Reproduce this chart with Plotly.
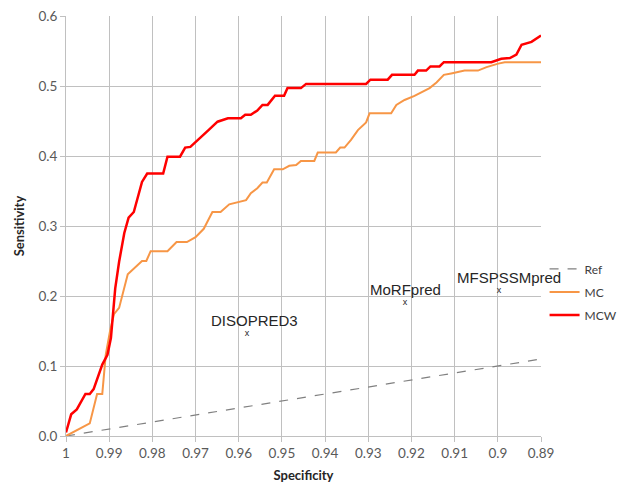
import plotly.graph_objects as go

# ---- data ----
ref_spec = [1.0, 0.89]
ref_sens = [0.0, 0.11]

mc_spec = [1.0, 0.9945, 0.9928, 0.9916, 0.9908, 0.9898, 0.9889, 0.9877, 0.9857, 0.9824,
           0.9814, 0.9804, 0.9765, 0.9744, 0.9720, 0.9700, 0.9681, 0.9661, 0.9642, 0.9622,
           0.9583, 0.9572, 0.9557, 0.9545, 0.9535, 0.9518, 0.9498, 0.9483, 0.9467, 0.9456,
           0.9425, 0.9417, 0.9375, 0.9365, 0.9355, 0.9340, 0.9324, 0.9305, 0.9297, 0.9247,
           0.9235, 0.9216, 0.9193, 0.9158, 0.9142, 0.9125, 0.9108, 0.9077, 0.9046, 0.9026,
           0.8999, 0.8984, 0.89]
mc_sens = [0.0, 0.018, 0.060, 0.060, 0.116, 0.150, 0.174, 0.183, 0.231, 0.250,
           0.250, 0.264, 0.264, 0.277, 0.277, 0.284, 0.296, 0.320, 0.320, 0.331,
           0.337, 0.347, 0.354, 0.362, 0.362, 0.381, 0.381, 0.386, 0.387, 0.393,
           0.393, 0.405, 0.405, 0.412, 0.412, 0.423, 0.437, 0.448, 0.461, 0.461,
           0.473, 0.480, 0.486, 0.497, 0.505, 0.516, 0.518, 0.522, 0.522, 0.527,
           0.532, 0.534, 0.534]

mcw_spec = [1.0, 0.9988, 0.9975, 0.9955, 0.9945, 0.9936, 0.9916, 0.9904, 0.9896, 0.9886,
            0.9877, 0.9865, 0.9855, 0.9843, 0.9824, 0.9812, 0.9775, 0.9765, 0.9736, 0.9724,
            0.9712, 0.9690, 0.9670, 0.9649, 0.9625, 0.9595, 0.9585, 0.9572, 0.9557, 0.9545,
            0.9533, 0.9516, 0.9495, 0.9487, 0.9456, 0.9444, 0.9305, 0.9295, 0.9255, 0.9245,
            0.9193, 0.9185, 0.9166, 0.9156, 0.9135, 0.9125, 0.9015, 0.8992, 0.8972, 0.8957,
            0.8945, 0.8922, 0.8914, 0.89]
mcw_sens = [0.005, 0.031, 0.038, 0.060, 0.060, 0.067, 0.102, 0.116, 0.140, 0.211,
            0.249, 0.290, 0.312, 0.320, 0.363, 0.375, 0.375, 0.399, 0.399, 0.412,
            0.413, 0.425, 0.437, 0.449, 0.454, 0.454, 0.459, 0.459, 0.465, 0.473,
            0.473, 0.486, 0.486, 0.497, 0.497, 0.503, 0.503, 0.509, 0.509, 0.516,
            0.516, 0.522, 0.522, 0.528, 0.528, 0.534, 0.534, 0.539, 0.540, 0.545,
            0.559, 0.563, 0.566, 0.572]

pred_names = ["DISOPRED3", "MoRFpred", "MFSPSSMpred"]
pred_spec = [0.9581, 0.9215, 0.8997]
pred_sens = [0.1465, 0.191, 0.2077]
pred_xshift = [8, 1, 10]

x_ticks = [1, 0.99, 0.98, 0.97, 0.96, 0.95, 0.94, 0.93, 0.92, 0.91, 0.9, 0.89]
x_tick_text = ["1", "0.99", "0.98", "0.97", "0.96", "0.95", "0.94", "0.93", "0.92", "0.91", "0.9", "0.89"]
y_ticks = [0.0, 0.1, 0.2, 0.3, 0.4, 0.5, 0.6]

fig = go.Figure()
fig.add_trace(go.Scatter(x=ref_spec, y=ref_sens, mode="lines", name="Ref",
                         line=dict(color="#808080", width=1.2, dash="dash"),
                         legendgroup="a"))
fig.add_trace(go.Scatter(x=mc_spec, y=mc_sens, mode="lines", name="MC",
                         line=dict(color="#F79646", width=2),
                         legendgroup="b"))
fig.add_trace(go.Scatter(x=mcw_spec, y=mcw_sens, mode="lines", name="MCW",
                         line=dict(color="#FF0000", width=2.5),
                         legendgroup="c"))
fig.add_trace(go.Scatter(x=pred_spec, y=pred_sens, mode="text", text=["x"] * 3,
                         textfont=dict(family="Liberation Sans", size=9, color="#262626"),
                         showlegend=False, hoverinfo="skip"))

for n, sx, sy, xs in zip(pred_names, pred_spec, pred_sens, pred_xshift):
    fig.add_annotation(x=sx, y=sy, text=n, showarrow=False, xshift=xs, yshift=13,
                       font=dict(family="Liberation Sans", size=15, color="#262626"))

axis_font = dict(family="Lato", size=13.5, color="#595959")
fig.update_xaxes(range=[1, 0.89], tickvals=x_ticks, ticktext=x_tick_text,
                 showgrid=True, gridcolor="#c0c0c0", gridwidth=1,
                 showline=True, linecolor="#c0c0c0", linewidth=1,
                 ticks="outside", ticklen=5, tickcolor="#c0c0c0",
                 tickfont=axis_font, zeroline=False, automargin=False,
                 title=dict(text="<b>Specificity</b>", font=dict(family="Lato", size=13, color="#262626"),
                            standoff=10))
fig.update_yaxes(range=[0, 0.6], tickvals=y_ticks, tickformat=".1f",
                 showgrid=True, gridcolor="#c0c0c0", gridwidth=1,
                 showline=True, linecolor="#c0c0c0", linewidth=1,
                 ticks="outside", ticklen=5, tickcolor="#c0c0c0",
                 tickfont=axis_font, zeroline=False, automargin=False,
                 title=dict(text="<b>Sensitivity</b>", font=dict(family="Lato", size=13, color="#262626"),
                            standoff=10))

fig.update_layout(
    width=630, height=484,
    margin=dict(l=66, r=89, t=16, b=48, autoexpand=False),
    plot_bgcolor="white", paper_bgcolor="white",
    legend=dict(x=1.0075, y=0.343, xanchor="left", yanchor="middle",
                font=dict(family="Lato", size=12, color="#404040"),
                itemwidth=30, tracegroupgap=4, traceorder="grouped",
                bgcolor="rgba(0,0,0,0)"),
)

fig.write_html("out.html", config={"displayModeBar": False},
               post_script="document.body.style.margin='0';")
